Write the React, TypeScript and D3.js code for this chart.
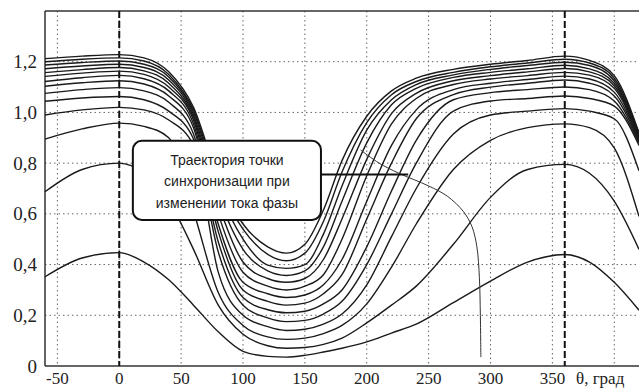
import * as d3 from "d3";
import React from "react";

// angle grid (deg) shared by all curves
const THETA = [-60, -30, 0, 20, 40, 60, 80, 100, 120, 135, 150, 165, 180, 200, 220, 240, 270, 300, 330, 360, 380, 400, 420];

// U(θ) curves, top to bottom
const C1 = [1.212, 1.222, 1.228, 1.215, 1.16, 1.02, 0.74, 0.56, 0.47, 0.445, 0.48, 0.615, 0.81, 0.985, 1.085, 1.135, 1.17, 1.19, 1.205, 1.222, 1.205, 1.145, 0.92];
const C2 = [1.2, 1.21, 1.215, 1.203, 1.15, 1.01, 0.72, 0.54, 0.44, 0.415, 0.445, 0.57, 0.765, 0.96, 1.07, 1.122, 1.158, 1.18, 1.195, 1.21, 1.195, 1.135, 0.915];
const C3 = [1.187, 1.197, 1.203, 1.19, 1.14, 1.0, 0.7, 0.5, 0.398, 0.385, 0.4, 0.52, 0.71, 0.93, 1.05, 1.11, 1.148, 1.17, 1.185, 1.198, 1.185, 1.125, 0.91];
const C4 = [1.172, 1.183, 1.19, 1.177, 1.128, 0.99, 0.67, 0.46, 0.375, 0.357, 0.375, 0.47, 0.65, 0.88, 1.03, 1.095, 1.138, 1.158, 1.172, 1.186, 1.172, 1.115, 0.905];
const C5 = [1.157, 1.169, 1.177, 1.164, 1.115, 0.98, 0.64, 0.41, 0.345, 0.33, 0.345, 0.42, 0.58, 0.815, 0.995, 1.075, 1.125, 1.145, 1.16, 1.173, 1.16, 1.105, 0.9];
const C6 = [1.142, 1.155, 1.163, 1.15, 1.1, 0.97, 0.6, 0.37, 0.315, 0.3, 0.315, 0.36, 0.5, 0.75, 0.955, 1.055, 1.11, 1.132, 1.145, 1.158, 1.147, 1.095, 0.895];
const C7 = [1.122, 1.137, 1.146, 1.133, 1.085, 0.955, 0.56, 0.33, 0.285, 0.27, 0.28, 0.32, 0.42, 0.65, 0.87, 1.01, 1.09, 1.115, 1.13, 1.143, 1.132, 1.08, 0.89];
const C8 = [1.103, 1.117, 1.125, 1.112, 1.065, 0.94, 0.53, 0.3, 0.255, 0.24, 0.248, 0.285, 0.36, 0.58, 0.8, 0.975, 1.07, 1.1, 1.115, 1.128, 1.115, 1.065, 0.885];
const C9 = [1.075, 1.09, 1.098, 1.085, 1.04, 0.915, 0.49, 0.27, 0.222, 0.21, 0.216, 0.245, 0.3, 0.47, 0.69, 0.89, 1.05, 1.078, 1.09, 1.1, 1.09, 1.045, 0.88];
const C10 = [1.044, 1.057, 1.063, 1.05, 1.005, 0.895, 0.45, 0.24, 0.19, 0.175, 0.18, 0.205, 0.255, 0.4, 0.6, 0.8, 1.005, 1.045, 1.055, 1.065, 1.055, 1.025, 0.87];
const C11 = [0.99, 1.01, 1.02, 1.01, 0.97, 0.87, 0.37, 0.2, 0.155, 0.14, 0.145, 0.165, 0.205, 0.32, 0.51, 0.7, 0.915, 0.99, 1.005, 1.015, 1.005, 0.975, 0.77];
const C12 = [0.895, 0.935, 0.958, 0.945, 0.9, 0.61, 0.29, 0.16, 0.115, 0.105, 0.11, 0.128, 0.16, 0.245, 0.39, 0.56, 0.775, 0.89, 0.94, 0.955, 0.94, 0.86, 0.59];
const C13 = [0.687, 0.775, 0.8, 0.76, 0.65, 0.46, 0.24, 0.125, 0.08, 0.07, 0.073, 0.085, 0.11, 0.17, 0.24, 0.315, 0.48, 0.665, 0.775, 0.795, 0.76, 0.65, 0.46];
const C14 = [0.352, 0.426, 0.447, 0.41, 0.34, 0.24, 0.135, 0.058, 0.038, 0.035, 0.042, 0.055, 0.07, 0.095, 0.13, 0.165, 0.25, 0.335, 0.41, 0.44, 0.41, 0.33, 0.22];
const CURVES = [C1, C2, C3, C4, C5, C6, C7, C8, C9, C10, C11, C12, C13, C14];

// trajectory of the sync point
const TRAJ_T = [195, 210, 226, 250, 265, 278, 285, 289, 291, 291.8, 292.2];
const TRAJ_V = [0.852, 0.8, 0.76, 0.71, 0.67, 0.61, 0.55, 0.47, 0.35, 0.2, 0.035];

const X_TICKS = [-50, 0, 50, 100, 150, 200, 250, 300, 350, 400];
const X_LABELS = ["-50", "0", "50", "100", "150", "200", "250", "300", "350"];
const Y_TICKS = [0, 0.2, 0.4, 0.6, 0.8, 1.0, 1.2];
const Y_LABELS = ["0", "0,2", "0,4", "0,6", "0,8", "1,0", "1,2"];
const MARKERS = [0, 360];
const NOTE = ["Траектория точки", "синхронизации при", "изменении тока фазы"];

const W = 639, H = 389;

export default function App() {
  const x = d3.scaleLinear().domain([-60, 420]).range([45, 639]);
  const y = d3.scaleLinear().domain([0, 1.4]).range([366, 11]);

  const line = d3.line<[number, number]>()
    .x(d => x(d[0]))
    .y(d => y(d[1]))
    .curve(d3.curveMonotoneX);
  const trajLine = d3.line<[number, number]>()
    .x(d => x(d[0]))
    .y(d => y(d[1]))
    .curve(d3.curveCatmullRom.alpha(0.5));

  const traj: [number, number][] = TRAJ_T.map((t, i) => [t, TRAJ_V[i]]);

  // callout box in data coords
  const bx0 = x(11), bx1 = x(163), by0 = y(0.888), by1 = y(0.576);
  const bcx = (bx0 + bx1) / 2;
  const pointerY = y(0.755);

  return (
    <svg width={W} height={H} style={{ position: "absolute", left: 0, top: 0, background: "#fff" }}>
      {/* grid */}
      <g stroke="#666" strokeWidth={1} strokeDasharray="1.5,3">
        {X_TICKS.map(t => (
          <line key={"gx" + t} x1={x(t)} x2={x(t)} y1={y(1.4)} y2={y(0)} />
        ))}
        {Y_TICKS.filter(v => v > 0).map(v => (
          <line key={"gy" + v} x1={x(-60)} x2={W} y1={y(v)} y2={y(v)} />
        ))}
      </g>
      {/* frame */}
      <g stroke="#333" strokeWidth={1.5} fill="none">
        <line x1={x(-60)} x2={W} y1={y(1.4)} y2={y(1.4)} />
        <line x1={x(-60)} x2={W} y1={y(0)} y2={y(0)} />
        <line x1={x(-60)} x2={x(-60)} y1={y(1.4)} y2={y(0)} />
      </g>
      {/* markers at 0 and 360 */}
      <g stroke="#111" strokeWidth={2} strokeDasharray="7,3">
        {MARKERS.map(m => (
          <line key={m} x1={x(m)} x2={x(m)} y1={y(1.4)} y2={y(0)} />
        ))}
      </g>
      {/* curves */}
      <g fill="none" stroke="#1a1a1a" strokeWidth={1.4}>
        {CURVES.map((c, i) => (
          <path key={i} d={line(THETA.map((t, j) => [t, c[j]] as [number, number])) ?? ""} />
        ))}
      </g>
      <path d={trajLine(traj) ?? ""} fill="none" stroke="#333" strokeWidth={1} />
      {/* callout */}
      <line x1={bx1} x2={x(233.5)} y1={pointerY} y2={pointerY} stroke="#111" strokeWidth={2} />
      <rect x={bx0} y={by0} width={bx1 - bx0} height={by1 - by0} rx={9} fill="#fff" stroke="#111" strokeWidth={2} />
      <g fontFamily="'Liberation Sans', Arial, sans-serif" fontSize={14} fill="#222" textAnchor="middle">
        {NOTE.map((s, i) => (
          <text key={i} x={bcx} y={by0 + 24 + i * 21.5}>{s}</text>
        ))}
      </g>
      {/* axis labels */}
      <g fontFamily="'Liberation Serif', 'Times New Roman', serif" fill="#222">
        {Y_TICKS.map((v, i) => (
          <text key={v} x={37} y={y(v) + 6.5} textAnchor="end" fontSize={19}>{Y_LABELS[i]}</text>
        ))}
        {X_LABELS.map((s, i) => (
          <text key={s} x={x(X_TICKS[i])} y={384} textAnchor="middle" fontSize={17}>{s}</text>
        ))}
        <text x={576} y={384} fontSize={17}>θ, град</text>
      </g>
    </svg>
  );
}
